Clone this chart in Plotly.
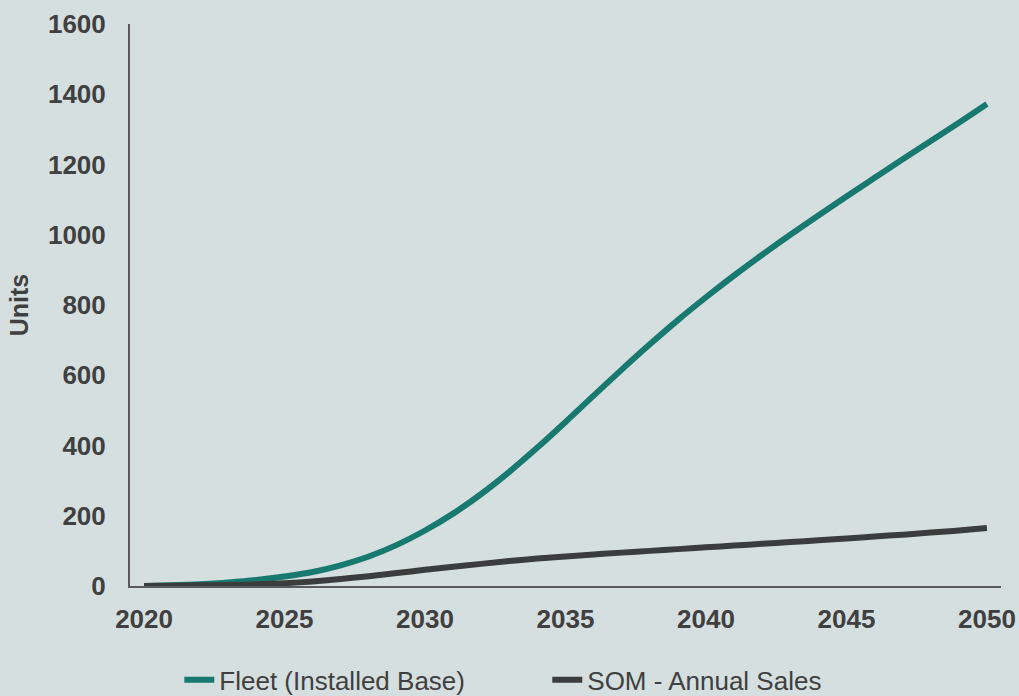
import plotly.graph_objects as go

years = list(range(2020, 2051))
fleet = [0, 2, 5, 10, 17, 27, 40, 59, 84, 117, 158, 206, 262, 325, 394, 467,
         542, 616, 688, 757, 822, 884, 943, 1000, 1055, 1109, 1162, 1215, 1267, 1319, 1372]
som = [0, 1, 2, 3, 5, 8, 13, 20, 28, 37, 46, 55, 63, 71, 78, 84,
       90, 95, 100, 105, 110, 115, 120, 125, 130, 135, 141, 146, 152, 158, 165]
series_names = ["Fleet (Installed Base)", "SOM - Annual Sales"]
x_ticks = [2020, 2025, 2030, 2035, 2040, 2045, 2050]
y_ticks = [0, 200, 400, 600, 800, 1000, 1200, 1400, 1600]

BG = "#d6dfdf"
TEXT = "#404040"
FONT = "Liberation Sans, Arial, sans-serif"

fig = go.Figure()
fig.add_trace(go.Scatter(x=years, y=fleet, name=series_names[0], mode="lines",
                         line=dict(color="#17796f", width=6, shape="spline")))
fig.add_trace(go.Scatter(x=years, y=som, name=series_names[1], mode="lines",
                         line=dict(color="#3b3d3d", width=6, shape="spline")))

fig.update_layout(
    width=1019, height=696,
    paper_bgcolor=BG, plot_bgcolor=BG,
    margin=dict(l=130, r=18, t=24, b=110, autoexpand=False),
    font=dict(family=FONT, color=TEXT, size=26),
    showlegend=True,
    legend=dict(orientation="h", x=0.0566, y=-0.167, xanchor="left", yanchor="middle",
                font=dict(family=FONT, size=26, color=TEXT),
                entrywidth=323, entrywidthmode="pixels",
                bgcolor="rgba(0,0,0,0)", traceorder="normal"),
)
fig.update_xaxes(range=[2019.5, 2050.5], tickvals=x_ticks, ticktext=[str(v) for v in x_ticks],
                 showgrid=False, zeroline=False, showline=True, linecolor="#5a5a5a", linewidth=2,
                 ticks="", ticklabelstandoff=9, automargin=False,
                 tickfont=dict(family=FONT, size=26, color=TEXT, weight="bold"))
fig.update_yaxes(range=[0, 1600], tickvals=y_ticks, showgrid=False, zeroline=False,
                 showline=True, linecolor="#5a5a5a", linewidth=2, ticks="",
                 ticklabelstandoff=17, automargin=False,
                 tickfont=dict(family=FONT, size=26, color=TEXT, weight="bold"),
                 title=dict(text="Units", standoff=12,
                            font=dict(family=FONT, size=25, color=TEXT, weight="bold")))

fig.write_html("out.html", config={"displayModeBar": False},
               post_script="document.body.style.margin='0';document.body.style.background='%s';" % BG)
